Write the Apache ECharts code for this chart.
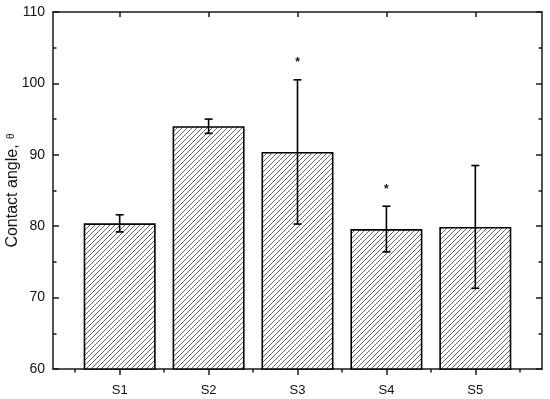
<!DOCTYPE html>
<html>
<head>
<meta charset="utf-8">
<script src="https://cdn.jsdelivr.net/npm/echarts@6/dist/echarts.min.js"></script>
<style>html,body{margin:0;padding:0;background:#fff}#c{width:550px;height:399px}</style>
</head>
<body>
<div id="c"></div>
<script>
const categories = ['S1', 'S2', 'S3', 'S4', 'S5'];
const means = [80.4, 94.0, 90.4, 79.6, 79.9];
const errors = [1.2, 1.0, 10.1, 3.2, 8.6];
const marks = ['', '', '*', '*', ''];
const yTicks = [60, 70, 80, 90, 100, 110];

const positions = categories.map((c, i) => i + 1);
const halfPositions = [0.5, 1.5, 2.5, 3.5, 4.5, 5.5];

// hatch pattern
const pc = document.createElement('canvas');
const S = 5;
pc.width = S; pc.height = S;
const g = pc.getContext('2d');
g.fillStyle = '#ffffff'; g.fillRect(0, 0, S, S);
g.strokeStyle = '#666666'; g.lineWidth = 1;
g.beginPath();
g.moveTo(-1, S + 1); g.lineTo(S + 1, -1);
g.moveTo(-1, 1); g.lineTo(1, -1);
g.moveTo(S - 1, S + 1); g.lineTo(S + 1, S - 1);
g.stroke();

const chart = echarts.init(document.getElementById('c'), null, {renderer: 'canvas'});
const FONT = 'Liberation Sans';
const axisCol = '#1a1a1a';

const xBase = {type: 'value', min: 0.25, max: 5.75, splitLine: {show: false}};
chart.setOption({
  animation: false,
  backgroundColor: '#fff',
  textStyle: {fontFamily: FONT},
  grid: {left: 53, right: 8, top: 12, bottom: 30, containLabel: false, outerBoundsMode: 'none'},
  xAxis: [
    Object.assign({}, xBase, {
      position: 'bottom',
      axisLine: {show: true, lineStyle: {color: axisCol, width: 1.5}},
      axisTick: {show: true, inside: false, length: 6, customValues: positions, lineStyle: {color: axisCol, width: 1.5}},
      axisLabel: {show: true, customValues: positions, margin: 15, fontSize: 13, color: '#111', fontFamily: FONT,
        formatter: v => categories[Math.round(v) - 1] || ''}
    }),
    Object.assign({}, xBase, {
      position: 'bottom',
      axisLine: {show: false},
      axisTick: {show: true, inside: false, length: 3.5, customValues: halfPositions, lineStyle: {color: axisCol, width: 1.5}},
      axisLabel: {show: false}
    }),
    Object.assign({}, xBase, {
      position: 'top',
      axisLine: {show: true, lineStyle: {color: axisCol, width: 1.5}},
      axisTick: {show: true, inside: true, length: 5, customValues: positions, lineStyle: {color: axisCol, width: 1.5}},
      axisLabel: {show: false}
    })
  ],
  yAxis: [
    {
      type: 'value', position: 'left', min: yTicks[0], max: yTicks[yTicks.length - 1], interval: 10,
      splitLine: {show: false},
      axisLine: {show: true, lineStyle: {color: axisCol, width: 1.5}},
      axisTick: {show: true, inside: true, length: 6, lineStyle: {color: axisCol, width: 1.5}},
      minorTick: {show: true, splitNumber: 2, length: 3.5, lineStyle: {color: axisCol, width: 1.5}},
      axisLabel: {fontSize: 14, margin: 8, color: '#111', fontFamily: FONT},
      name: '{a|Contact angle, }{b|θ}',
      nameLocation: 'middle', nameGap: 30, nameRotate: 90, nameMoveOverlap: false,
      nameTextStyle: {
        rich: {
          a: {fontSize: 16, fontFamily: FONT, color: '#111', lineHeight: 20, verticalAlign: 'middle'},
          b: {fontSize: 10, fontFamily: FONT, color: '#111', lineHeight: 20, verticalAlign: 'middle', padding: [0, 0, 3, 1]}
        }
      }
    },
    {
      type: 'value', position: 'right', min: yTicks[0], max: yTicks[yTicks.length - 1], interval: 10,
      splitLine: {show: false},
      axisLine: {show: true, lineStyle: {color: axisCol, width: 1.5}},
      axisTick: {show: true, inside: true, length: 6, lineStyle: {color: axisCol, width: 1.5}},
      minorTick: {show: true, splitNumber: 2, length: 3.5, lineStyle: {color: axisCol, width: 1.5}},
      axisLabel: {show: false}
    }
  ],
  series: [
    {
      type: 'bar', xAxisIndex: 0, yAxisIndex: 0,
      barWidth: 72,
      data: positions.map((p, i) => [p, means[i]]),
      itemStyle: {color: {image: pc, repeat: 'repeat'}, borderColor: '#000', borderWidth: 1.6},
      z: 2
    },
    {
      type: 'custom', xAxisIndex: 0, yAxisIndex: 0, z: 5,
      data: positions.map((p, i) => [p, means[i] - errors[i], means[i] + errors[i], i]),
      renderItem: function (params, api) {
        const x = api.value(0);
        const lo = api.coord([x, api.value(1)]);
        const hi = api.coord([x, api.value(2)]);
        const idx = api.value(3);
        const w = 4;
        const st = {stroke: '#000', lineWidth: 1.6, fill: null};
        const children = [
          {type: 'line', shape: {x1: hi[0], y1: hi[1], x2: lo[0], y2: lo[1]}, style: st},
          {type: 'line', shape: {x1: hi[0] - w, y1: hi[1], x2: hi[0] + w, y2: hi[1]}, style: st},
          {type: 'line', shape: {x1: lo[0] - w, y1: lo[1], x2: lo[0] + w, y2: lo[1]}, style: st}
        ];
        if (marks[idx]) {
          children.push({type: 'text', style: {text: marks[idx], x: hi[0], y: hi[1] - 17,
            align: 'center', verticalAlign: 'middle', fontSize: 12, fontFamily: FONT, fill: '#111', fontWeight: 'bold'}});
        }
        return {type: 'group', children: children};
      }
    }
  ]
});
</script>
</body>
</html>
